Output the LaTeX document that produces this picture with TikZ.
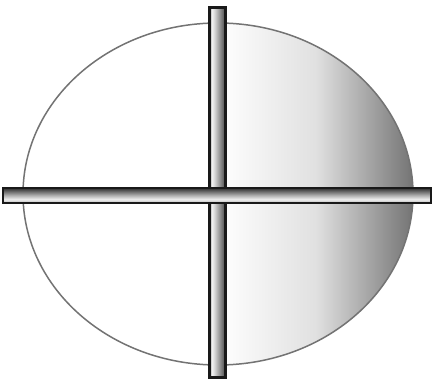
\documentclass[tikz,border=0pt]{standalone}
\pgfdeclarehorizontalshading{vbarshade}{100bp}{
  color(0bp)=(black!35); color(25bp)=(black!35); color(33bp)=(black!5);
  color(42bp)=(black!18); color(75bp)=(black!72); color(100bp)=(black!72)}
\pgfdeclareverticalshading{hbarshade}{100bp}{
  color(0bp)=(black!30); color(25bp)=(black!30); color(37bp)=(black!6);
  color(50bp)=(black!30); color(75bp)=(black!82); color(100bp)=(black!82)}
\begin{document}
\begin{tikzpicture}[x=1pt,y=-1pt,
  barline/.style={draw=black!90,line width=2.2pt},
  rim/.style={draw=black!55,line width=1.5pt}]
\useasboundingbox (0,0) rectangle (433,379);
\fill[white] (0,0) rectangle (433,379);
\coordinate (c) at (218,194);
\begin{scope}
  \clip (c) ellipse [x radius=195, y radius=171];
  \shade[left color=white, right color=black!55, middle color=black!12] (218,0) rectangle (414,379);
\end{scope}
\draw[rim] (c) ellipse [x radius=195, y radius=171];
% vertical bar
\node[barline, minimum width=16pt, minimum height=370pt, inner sep=0pt,
  shading=vbarshade] (vbar) at (217.5,192.5) {};
% horizontal bar
\node[barline, minimum width=428pt, minimum height=15pt, inner sep=0pt,
  shading=hbarshade] (hbar) at (217,195.5) {};
\end{tikzpicture}
\end{document}
